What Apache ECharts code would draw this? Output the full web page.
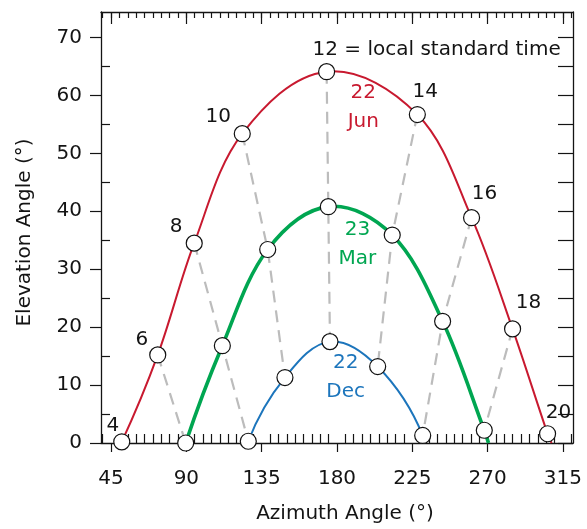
<!DOCTYPE html>
<html><head><meta charset="utf-8">
<script src="https://cdn.jsdelivr.net/npm/echarts@6/dist/echarts.min.js"></script>
<style>html,body{margin:0;padding:0;background:#fff}#c{width:587px;height:529px}</style>
</head><body><div id="c"></div>
<script>
// ---- data ----
const junHours=[4,6,8,10,12,14,16,18,20];
const junAz=[51.4,72.9,94.7,123.4,173.8,228.0,260.4,284.9,305.8];
const junEl=[0.2,15.2,34.5,53.4,64.1,56.7,38.9,19.7,1.6];
const junEnd=[308.2,0];
const marHours=[6,8,10,12,14,16,18];
const marAz=[89.6,111.5,138.6,174.8,213.0,243.1,268.0];
const marEl=[0.0,16.8,33.4,40.8,35.9,21.0,2.2];
const marEnd=[270.5,0];
const decHours=[8,10,12,14,16];
const decAz=[127.0,148.9,175.8,204.3,231.2];
const decEl=[0.3,11.3,17.5,13.2,1.3];
const xMajorTicks=[45,90,135,180,225,270,315];
const yMajorTicks=[0,10,20,30,40,50,60,70];
const dateNames=['22\nJun','23\nMar','22\nDec'];
const dateLabelAz=[195.7,192.2,185.2];
const dateLabelEl=[58.0,34.3,11.3];
const noteText='12 = local standard time';
const xTitle='Azimuth Angle (°)';
const yTitle='Elevation Angle (°)';

// ---- styling ----
const ink='#141414';
const FONT='DejaVu Sans';
const RED='#c8192f', GREEN='#00a651', BLUE='#1c75bc', DASH='#bcbcbc';
const labelOffsets={4:[-9,-16],6:[-16,-15],8:[-18,-16],10:[-24,-17],12:[110,-22],14:[8,-23],16:[13,-24],18:[16,-26],20:[11,-21]};

const xMinor=[]; for(let v=40;v<=320;v+=5) xMinor.push(v);
const xMinorBottom=xMinor.filter(v=>xMajorTicks.indexOf(v)<0);
const yMinorLeft=[]; for(let v=5;v<=70;v+=10) yMinorLeft.push(v);
const yAllRight=[]; for(let v=0;v<=70;v+=5) yAllRight.push(v);

const pts=(az,el)=>az.map((a,i)=>[a,el[i]]);
const dates=[
  {h:junHours,az:junAz,el:junEl,color:RED,width:2,end:junEnd},
  {h:marHours,az:marAz,el:marEl,color:GREEN,width:3.6,end:marEnd},
  {h:decHours,az:decAz,el:decEl,color:BLUE,width:2,end:null}
];

// smooth path through pixel points (G1 bezier, tangent from neighbours)
function smoothPath(P){
  const n=P.length, norm=v=>{const l=Math.hypot(v[0],v[1])||1;return [v[0]/l,v[1]/l];};
  const dir=[];
  for(let i=0;i<n;i++){
    if(i>0&&i<n-1) dir[i]=norm([P[i+1][0]-P[i-1][0],P[i+1][1]-P[i-1][1]]);
  }
  const u0=norm([P[1][0]-P[0][0],P[1][1]-P[0][1]]);
  const un=norm([P[n-1][0]-P[n-2][0],P[n-1][1]-P[n-2][1]]);
  dir[0]=n>2?norm([2*u0[0]-dir[1][0],2*u0[1]-dir[1][1]]):u0;
  dir[n-1]=n>2?norm([2*un[0]-dir[n-2][0],2*un[1]-dir[n-2][1]]):un;
  let d='M'+P[0][0]+' '+P[0][1];
  for(let i=0;i<n-1;i++){
    const L=Math.hypot(P[i+1][0]-P[i][0],P[i+1][1]-P[i][1])/3;
    const c1=[P[i][0]+dir[i][0]*L,P[i][1]+dir[i][1]*L];
    const c2=[P[i+1][0]-dir[i+1][0]*L,P[i+1][1]-dir[i+1][1]*L];
    d+=' C'+c1[0]+' '+c1[1]+' '+c2[0]+' '+c2[1]+' '+P[i+1][0]+' '+P[i+1][1];
  }
  return d;
}

const series=[];
// dashed hour lines
const allHours=[...new Set([...junHours,...marHours,...decHours])].sort((a,b)=>a-b);
allHours.forEach(h=>{
  const p=[];
  dates.forEach(d=>{const i=d.h.indexOf(h); if(i>=0) p.push([d.az[i],d.el[i]]);});
  if(p.length>1) series.push({type:'line',data:p,symbol:'none',silent:true,z:1,
    lineStyle:{color:DASH,width:2.2,type:[12,8]}});
});
// curves (custom series, through the data points)
dates.forEach(d=>{
  const data=pts(d.az,d.el); if(d.end) data.push(d.end);
  series.push({type:'custom',data:data,silent:true,z:3,
    encode:{x:0,y:1},
    renderItem:function(params,api){
      if(params.dataIndex!==0) return null;
      const P=data.map(p=>api.coord(p));
      return {type:'path',shape:{pathData:smoothPath(P)},
        style:{stroke:d.color,lineWidth:d.width,fill:'none'}};
    }});
});
// markers
dates.forEach((d,di)=>{
  const data=pts(d.az,d.el).map((p,i)=>{
    const item={value:p};
    if(di===0){
      const h=d.h[i];
      item.label={show:true,position:'inside',offset:labelOffsets[h],
        formatter:h===12?noteText:String(h),color:ink,fontSize:20,fontFamily:FONT,opacity:1};
    }
    return item;
  });
  series.push({type:'scatter',data:data,symbol:'circle',symbolSize:16,z:5,silent:true,
    itemStyle:{color:'#fff',borderColor:'#111',borderWidth:1.2,opacity:1}});
});
// date labels
series.push({type:'scatter',symbolSize:0,z:6,silent:true,itemStyle:{opacity:1},
  data:dateNames.map((n,i)=>({value:[dateLabelAz[i],dateLabelEl[i]],
    label:{show:true,position:'inside',formatter:n,color:[RED,GREEN,BLUE][i],opacity:1,
      fontSize:20,fontFamily:FONT,lineHeight:29,align:'center'}}))});

const axisLineStyle={color:ink,width:1.3};
const tickStyle={color:ink,width:1.2};
const xBase={type:'value',min:39,max:321,splitLine:{show:false},axisLabel:{show:false}};
const yBase={type:'value',min:0,max:74.4,splitLine:{show:false},axisLabel:{show:false}};

const option={
  animation:false,
  backgroundColor:'#fff',
  grid:{left:101,right:14,top:12,bottom:86,containLabel:false,outerBoundsMode:'none'},
  xAxis:[
    Object.assign({},xBase,{position:'bottom',
      axisLine:{show:true,onZero:false,lineStyle:axisLineStyle},
      axisTick:{show:true,customValues:xMajorTicks,inside:false,length:9,lineStyle:tickStyle},
      axisLabel:{show:true,customValues:xMajorTicks,margin:26,color:ink,fontSize:20,fontFamily:FONT},
      name:xTitle,nameLocation:'middle',nameGap:61,
      nameTextStyle:{color:ink,fontSize:20,fontFamily:FONT,padding:[0,0,0,16]}}),
    Object.assign({},xBase,{position:'bottom',
      axisLine:{show:false,onZero:false},
      axisTick:{show:true,customValues:xMinorBottom,inside:true,length:9,lineStyle:tickStyle}}),
    Object.assign({},xBase,{position:'top',
      axisLine:{show:true,onZero:false,lineStyle:axisLineStyle},
      axisTick:{show:true,customValues:xMinor,inside:true,length:6,lineStyle:tickStyle}}),
    Object.assign({},xBase,{position:'top',
      axisLine:{show:false,onZero:false},
      axisTick:{show:true,customValues:xMajorTicks,inside:true,length:12,lineStyle:tickStyle}})
  ],
  yAxis:[
    Object.assign({},yBase,{position:'left',
      axisLine:{show:true,onZero:false,lineStyle:axisLineStyle},
      axisTick:{show:true,customValues:yMajorTicks,inside:false,length:11,lineStyle:tickStyle},
      axisLabel:{show:true,customValues:yMajorTicks,margin:19,color:ink,fontSize:20,fontFamily:FONT},
      name:yTitle,nameLocation:'middle',nameGap:66,nameRotate:90,
      nameTextStyle:{color:ink,fontSize:20,fontFamily:FONT,padding:[0,10,0,0]}}),
    Object.assign({},yBase,{position:'left',
      axisLine:{show:false,onZero:false},
      axisTick:{show:true,customValues:yMinorLeft,inside:true,length:9,lineStyle:tickStyle}}),
    Object.assign({},yBase,{position:'right',
      axisLine:{show:true,onZero:false,lineStyle:axisLineStyle},
      axisTick:{show:true,customValues:yAllRight,inside:true,length:15,lineStyle:tickStyle}})
  ],
  series:series
};
const chart=echarts.init(document.getElementById('c'),null,{renderer:'canvas'});
chart.setOption(option);
</script></body></html>
